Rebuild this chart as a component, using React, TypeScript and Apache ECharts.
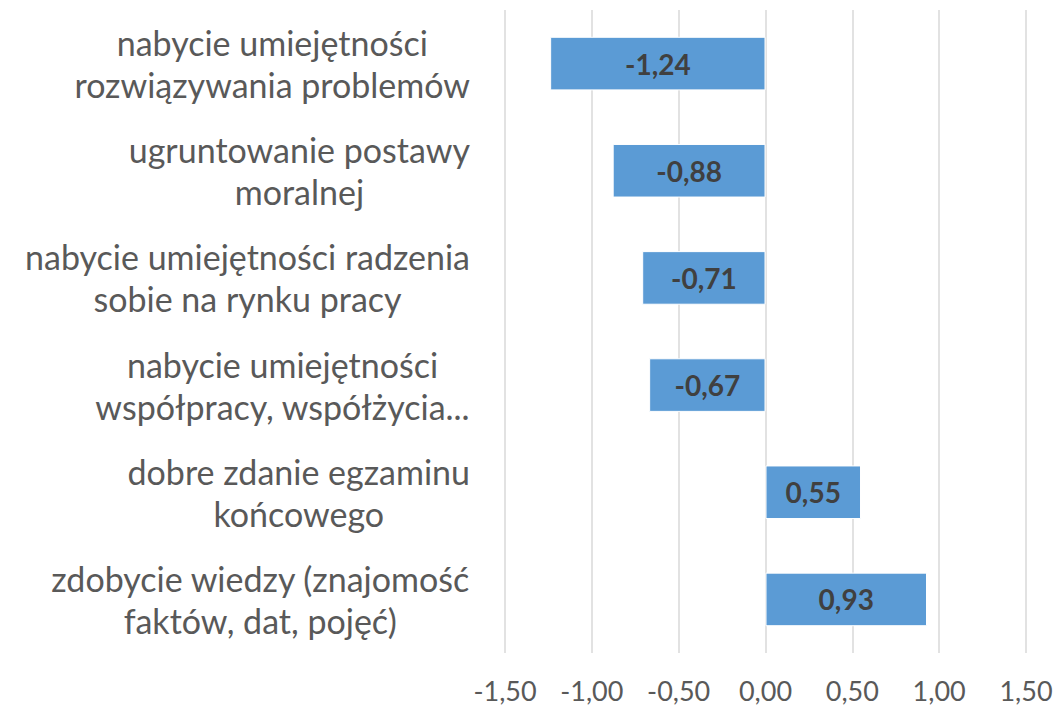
import React, { useEffect, useRef } from "react";
import * as echarts from "echarts";

const categories = [
  "nabycie umiejętności\nrozwiązywania problemów",
  "ugruntowanie postawy\nmoralnej",
  "nabycie umiejętności radzenia\nsobie na rynku pracy",
  "nabycie umiejętności\nwspółpracy, współżycia...",
  "dobre zdanie egzaminu\nkońcowego",
  "zdobycie wiedzy (znajomość\nfaktów, dat, pojęć)",
];
const values = [-1.24, -0.88, -0.71, -0.67, 0.55, 0.93];

const fmt = (v: number) => v.toFixed(2).replace(".", ",");
const FONT = "Lato, 'Open Sans', sans-serif";

export default function App() {
  const ref = useRef<HTMLDivElement>(null);
  useEffect(() => {
    document.body.style.margin = "0";
    const chart = echarts.init(ref.current!, null, { renderer: "svg" });
    chart.setOption({
      animation: false,
      backgroundColor: "#ffffff",
      grid: { left: 505, right: 32, top: 10, bottom: 59 },
      xAxis: {
        type: "value",
        min: -1.5,
        max: 1.5,
        interval: 0.5,
        axisLine: { show: false },
        axisTick: { show: false },
        splitLine: { show: true, lineStyle: { color: "#d9d9d9", width: 1.5 } },
        axisLabel: {
          formatter: (v: number) => fmt(v),
          color: "#595959",
          fontSize: 27,
          fontFamily: FONT,
          margin: 24,
        },
      },
      yAxis: {
        type: "category",
        inverse: true,
        data: categories,
        axisLine: { show: false },
        axisTick: { show: false },
        splitLine: { show: false },
        axisLabel: {
          align: "right",
          margin: 35,
          formatter: (v: string) =>
            v
              .split("\n")
              .map((l) => `{c|${l}}`)
              .join("\n"),
          rich: {
            c: {
              align: "center",
              fontSize: 34,
              lineHeight: 42,
              color: "#595959",
              fontFamily: FONT,
            },
          },
        },
      },
      series: [
        {
          type: "bar",
          data: values,
          barCategoryGap: "50%",
          itemStyle: { color: "#5b9bd5", borderColor: "#ffffff", borderWidth: 1 },
          label: {
            show: true,
            position: "inside",
            formatter: (p: any) => fmt(p.value),
            color: "#404040",
            fontWeight: "bold",
            fontSize: 28,
            fontFamily: FONT,
          },
        },
      ],
    });
    return () => chart.dispose();
  }, []);
  return <div ref={ref} style={{ width: 1058, height: 712 }} />;
}
